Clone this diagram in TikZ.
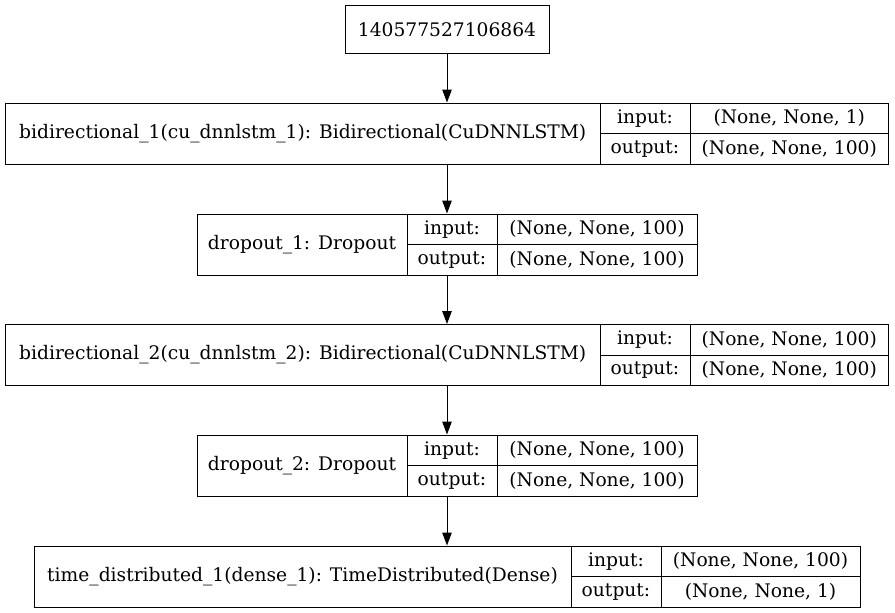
\documentclass[tikz,border=0pt]{standalone}
\usepackage{fontspec}
\setmainfont{DejaVu Serif}
\usetikzlibrary{arrows.meta}

\begin{document}
\begin{tikzpicture}[x=1pt,y=-1pt,
        every node/.style={font=\fontsize{18.67pt}{22pt}\selectfont},
        rec/.style={draw,rectangle,inner sep=0pt,line width=1pt,minimum height=61pt},
        cell/.style={draw,rectangle,inner sep=0pt,line width=1pt,minimum height=30.5pt},
        flow/.style={-{Triangle[length=13pt,width=9.5pt]},line width=1pt}]

            \useasboundingbox (0,0) rectangle (895,613);

            % input layer
            \path   (447,29.25) node (in) [rec,minimum width=204pt,minimum height=47.5pt] {140577527106864};

            % bidirectional_1
            \path   (447,133.5) node (l1) [rec,minimum width=883pt] {}
                    (302.75,133.5) node (l1name) [rec,minimum width=594.5pt] {bidirectional\_1(cu\_dnnlstm\_1): Bidirectional(CuDNNLSTM)}
                    (645,118.25) node (l1ia) [cell,minimum width=90pt] {input:}
                    (645,148.75) node (l1oa) [cell,minimum width=90pt] {output:}
                    (789.25,118.25) node (l1ib) [cell,minimum width=198.5pt] {(None, None, 1)}
                    (789.25,148.75) node (l1ob) [cell,minimum width=198.5pt] {(None, None, 100)};

            % dropout_1
            \path   (447,244.5) node (l2) [rec,minimum width=500pt] {}
                    (302,244.5) node (l2name) [rec,minimum width=210pt] {dropout\_1: Dropout}
                    (452,229.25) node (l2ia) [cell,minimum width=90pt] {input:}
                    (452,259.75) node (l2oa) [cell,minimum width=90pt] {output:}
                    (597,229.25) node (l2ib) [cell,minimum width=200pt] {(None, None, 100)}
                    (597,259.75) node (l2ob) [cell,minimum width=200pt] {(None, None, 100)};

            % bidirectional_2
            \path   (447,355) node (l3) [rec,minimum width=883pt] {}
                    (302.75,355) node (l3name) [rec,minimum width=594.5pt] {bidirectional\_2(cu\_dnnlstm\_2): Bidirectional(CuDNNLSTM)}
                    (645,339.75) node (l3ia) [cell,minimum width=90pt] {input:}
                    (645,370.25) node (l3oa) [cell,minimum width=90pt] {output:}
                    (789.25,339.75) node (l3ib) [cell,minimum width=198.5pt] {(None, None, 100)}
                    (789.25,370.25) node (l3ob) [cell,minimum width=198.5pt] {(None, None, 100)};

            % dropout_2
            \path   (447,465.5) node (l4) [rec,minimum width=500pt] {}
                    (302,465.5) node (l4name) [rec,minimum width=210pt] {dropout\_2: Dropout}
                    (452,450.25) node (l4ia) [cell,minimum width=90pt] {input:}
                    (452,480.75) node (l4oa) [cell,minimum width=90pt] {output:}
                    (597,450.25) node (l4ib) [cell,minimum width=200pt] {(None, None, 100)}
                    (597,480.75) node (l4ob) [cell,minimum width=200pt] {(None, None, 100)};

            % time_distributed_1
            \path   (447,576.5) node (l5) [rec,minimum width=826pt] {}
                    (302.5,576.5) node (l5name) [rec,minimum width=537pt] {time\_distributed\_1(dense\_1): TimeDistributed(Dense)}
                    (616,561.25) node (l5ia) [cell,minimum width=90pt] {input:}
                    (616,591.75) node (l5oa) [cell,minimum width=90pt] {output:}
                    (760.5,561.25) node (l5ib) [cell,minimum width=199pt] {(None, None, 100)}
                    (760.5,591.75) node (l5ob) [cell,minimum width=199pt] {(None, None, 1)};

            \draw[flow] (in.south) -- (l1.north);
            \draw[flow] (l1.south) -- (l2.north);
            \draw[flow] (l2.south) -- (l3.north);
            \draw[flow] (l3.south) -- (l4.north);
            \draw[flow] (l4.south) -- (l5.north);
        \end{tikzpicture}
\end{document}
